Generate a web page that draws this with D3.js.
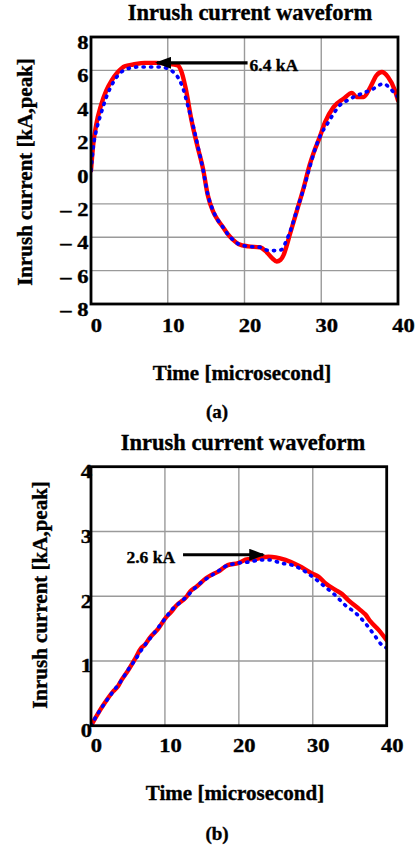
<!DOCTYPE html>
<html>
<head>
<meta charset="utf-8">
<script src="https://cdn.jsdelivr.net/npm/d3@7"></script>
<style>
  html, body { margin: 0; padding: 0; background: #fff; }
  svg { display: block; }
  text { font-family: "Liberation Serif", "Times New Roman", serif; font-weight: bold; fill: #000; stroke: #000; stroke-width: 0.35px; }
</style>
</head>
<body>
<svg id="chart" width="420" height="845"></svg>
<script>
// ---------- DATA ----------
const xTicks = [0, 10, 20, 30, 40];
const xTickLabels = ["0", "10", "20", "30", "40"];

// Panel (a)
const aYTicks = [8, 6, 4, 2, 0, -2, -4, -6, -8];
const aYTickLabels = ["8", "6", "4", "2", "0", "\u2013 2", "\u2013 4", "\u2013 6", "\u2013 8"];
const aRedT = [0, 0.3, 0.7, 1.3, 2.0, 2.7, 3.5, 4.4, 5.5, 7.0, 8.5, 10.0, 11.3, 11.8, 12.3, 13.1, 13.9, 14.6, 15.2, 15.9, 16.5, 17.2, 17.8, 18.5, 19.2, 20.5, 22.0, 22.9, 23.6, 24.2, 24.7, 25.1, 25.5, 25.9, 26.8, 27.7, 28.5, 29.0, 29.8, 30.5, 31.6, 32.9, 34.0, 34.6, 35.5, 36.4, 37.2, 37.9, 38.7, 39.6, 40];
const aRedV = [0, 1.6, 2.8, 3.9, 4.8, 5.4, 5.9, 6.25, 6.35, 6.45, 6.45, 6.4, 6.3, 5.9, 5.0, 3.0, 1.4, 0.1, -1.45, -2.45, -2.95, -3.4, -3.8, -4.15, -4.4, -4.55, -4.6, -4.9, -5.25, -5.45, -5.35, -5.05, -4.5, -3.85, -2.45, -1.05, 0.35, 1.05, 2.0, 2.9, 3.8, 4.3, 4.65, 4.4, 4.4, 5.0, 5.7, 5.9, 5.6, 4.8, 4.2];
const aBlueT = [0, 0.3, 0.8, 1.3, 2.0, 2.8, 3.6, 4.5, 6.0, 7.5, 9.0, 10.0, 10.6, 11.3, 12.0, 12.6, 13.3, 14.0, 14.6, 15.2, 15.9, 16.5, 17.2, 17.8, 18.5, 19.2, 20.5, 22.0, 23.2, 24.2, 24.8, 25.5, 26.1, 26.8, 27.7, 28.5, 29.4, 30.0, 30.8, 31.6, 32.4, 33.4, 34.2, 35.5, 36.8, 37.5, 38.1, 38.8, 39.4, 40];
const aBlueV = [0, 1.4, 2.6, 3.4, 4.4, 5.2, 5.75, 6.05, 6.2, 6.2, 6.2, 6.1, 5.95, 5.6, 4.9, 3.9, 2.7, 1.3, 0.05, -1.4, -2.4, -2.95, -3.4, -3.8, -4.15, -4.4, -4.55, -4.6, -4.8, -4.8, -4.75, -4.15, -3.45, -2.4, -1.1, 0.2, 1.55, 2.2, 2.8, 3.4, 3.9, 4.2, 4.4, 4.65, 4.9, 5.1, 5.2, 5.0, 4.7, 4.4];
const aNote = { label: "6.4 kA", fromT: 20.4, tipT: 8.6, v: 6.45 };

// Panel (b)
const bYTicks = [0, 1, 2, 3, 4];
const bYTickLabels = ["0", "1", "2", "3", "4"];
const bRedT = [0, 0.9, 1.85, 3.0, 3.6, 4.1, 5.0, 5.9, 6.8, 7.3, 7.9, 9.1, 10.2, 10.8, 11.5, 12.9, 13.4, 14.3, 15.6, 16.3, 17.2, 18.5, 19.9, 21.2, 22.2, 23.2, 24.0, 25.0, 26.3, 28.1, 29.9, 30.8, 31.7, 33.0, 34.0, 34.8, 36.4, 37.1, 37.8, 38.9, 40];
const bRedV = [0, 0.18, 0.35, 0.53, 0.6, 0.7, 0.85, 1.02, 1.2, 1.25, 1.35, 1.5, 1.68, 1.75, 1.85, 1.99, 2.07, 2.15, 2.28, 2.33, 2.38, 2.48, 2.51, 2.57, 2.57, 2.6, 2.61, 2.6, 2.56, 2.47, 2.35, 2.3, 2.2, 2.1, 2.03, 1.94, 1.79, 1.72, 1.61, 1.48, 1.32];
const bBlueT = [0, 1, 2, 3, 4, 5, 6, 7, 8, 9, 10, 11, 12, 13, 14, 15, 16, 17, 18, 19.8, 21.5, 22.9, 24.2, 25.7, 27.2, 28.7, 30.2, 31.6, 32.9, 34.4, 35.8, 37.2, 38.2, 39.5, 40];
const bBlueV = [0, 0.2, 0.37, 0.53, 0.68, 0.86, 1.02, 1.2, 1.35, 1.5, 1.65, 1.8, 1.9, 2.0, 2.12, 2.22, 2.3, 2.37, 2.45, 2.51, 2.53, 2.56, 2.56, 2.51, 2.48, 2.4, 2.28, 2.15, 2.03, 1.86, 1.74, 1.57, 1.42, 1.23, 1.2];
const bNote = { label: "2.6 kA", fromT: 12.45, tipT: 23.3, v: 2.64 };

const titleText = "Inrush current waveform";
const xLabelText = "Time [microsecond]";
const yLabelText = "Inrush current [kA,peak]";

// ---------- DRAW ----------
const svg = d3.select("#chart");
svg.append("rect").attr("width", 420).attr("height", 845).attr("fill", "#fff");

const defs = svg.append("defs");
defs.append("marker").attr("id", "arrowHead")
  .attr("viewBox", "0 0 16 12").attr("refX", 14).attr("refY", 6)
  .attr("markerWidth", 16).attr("markerHeight", 12)
  .attr("markerUnits", "userSpaceOnUse").attr("orient", "auto")
  .append("path").attr("d", "M0,0 L16,6 L0,12 Z").attr("fill", "#000");

const TICK_SX = 1.22;

function panel(cfg) {
  const x = d3.scaleLinear().domain([0, 40]).range([cfg.left, cfg.right]);
  const y = d3.scaleLinear().domain(cfg.yDomain).range([cfg.bottom, cfg.top]);
  const g = svg.append("g");

  // grid
  g.append("g").selectAll("line").data(xTicks).join("line")
    .attr("x1", d => x(d)).attr("x2", d => x(d))
    .attr("y1", cfg.top).attr("y2", cfg.bottom)
    .attr("stroke", "#9a9a9a").attr("stroke-width", 1.4);
  g.append("g").selectAll("line").data(cfg.yTicks).join("line")
    .attr("x1", cfg.left).attr("x2", cfg.right)
    .attr("y1", d => y(d)).attr("y2", d => y(d))
    .attr("stroke", "#9a9a9a").attr("stroke-width", 1.4);

  const clipId = "clip" + cfg.id;
  defs.append("clipPath").attr("id", clipId).append("rect")
    .attr("x", cfg.left).attr("y", cfg.top - 10)
    .attr("width", cfg.right - cfg.left).attr("height", cfg.bottom - cfg.top + 10);

  const line = d3.line().x(d => x(d[0])).y(d => y(d[1])).curve(d3.curveMonotoneX);
  const red = d3.zip(cfg.redT, cfg.redV);
  const blue = d3.zip(cfg.blueT, cfg.blueV);
  const lines = g.append("g").attr("clip-path", `url(#${clipId})`);
  lines.append("path").attr("d", line(red)).attr("fill", "none")
    .attr("stroke", "#ff0000").attr("stroke-width", 4.4).attr("stroke-linejoin", "round").attr("stroke-linecap", "round");
  lines.append("path").attr("d", line(blue)).attr("fill", "none")
    .attr("stroke", "#0000ff").attr("stroke-width", 3.6)
    .attr("stroke-dasharray", "1.2,6.3").attr("stroke-linecap", "round");

  // frame
  g.append("rect").attr("x", cfg.left).attr("y", cfg.top)
    .attr("width", cfg.right - cfg.left).attr("height", cfg.bottom - cfg.top)
    .attr("fill", "none").attr("stroke", "#000").attr("stroke-width", 2.8);

  // y tick labels
  g.append("g").selectAll("text").data(cfg.yTicks).join("text")
    .attr("transform", d => `translate(${cfg.yLabelRight},${y(d) + cfg.yLabelDy}) scale(${TICK_SX},1)`)
    .attr("text-anchor", "end").attr("font-size", cfg.tickSize)
    .text((d, i) => cfg.yTickLabels[i]);
  // x tick labels
  g.append("g").selectAll("text").data(xTicks).join("text")
    .attr("transform", d => `translate(${x(d) + 5.5},${cfg.xTickBaseline}) scale(${TICK_SX},1)`)
    .attr("text-anchor", "middle").attr("font-size", cfg.tickSize)
    .text((d, i) => xTickLabels[i]);

  // title
  g.append("text").attr("x", cfg.titleX).attr("y", cfg.titleY)
    .attr("text-anchor", "middle").attr("font-size", 22.5).text(titleText);
  // x label
  g.append("text").attr("x", cfg.xLabelX).attr("y", cfg.xLabelY)
    .attr("text-anchor", "middle").attr("font-size", 21).text(xLabelText);
  // y label
  g.append("text").attr("transform", `translate(${cfg.yLabelX},${cfg.yLabelY}) rotate(-90)`)
    .attr("text-anchor", "middle").attr("font-size", 21).text(yLabelText);
  // caption
  g.append("text").attr("x", 217).attr("y", cfg.capY)
    .attr("text-anchor", "middle").attr("font-size", 19).text(cfg.caption);

  // annotation
  const n = cfg.note;
  g.append("line")
    .attr("x1", x(n.fromT)).attr("y1", y(n.v))
    .attr("x2", x(n.tipT)).attr("y2", y(n.v))
    .attr("stroke", "#000").attr("stroke-width", 3.2)
    .attr("marker-end", "url(#arrowHead)");
  g.append("text")
    .attr("x", n.fromT > n.tipT ? x(n.fromT) + 2 : x(n.fromT) - 8)
    .attr("y", y(n.v) + 8)
    .attr("text-anchor", n.fromT > n.tipT ? "start" : "end")
    .attr("font-size", 17.5).text(n.label);
}

panel({
  id: "a", left: 91, right: 398, top: 37, bottom: 304, yDomain: [-8, 8],
  yTicks: aYTicks, yTickLabels: aYTickLabels,
  redT: aRedT, redV: aRedV, blueT: aBlueT, blueV: aBlueV,
  yLabelRight: 88.5, yLabelDy: 12, xTickBaseline: 331.5, tickSize: 18.5,
  titleX: 250, titleY: 20, xLabelX: 242, xLabelY: 380, yLabelX: 32, yLabelY: 172,
  capY: 418, caption: "(a)", note: aNote
});
panel({
  id: "b", left: 91, right: 386.7, top: 466.7, bottom: 725.7, yDomain: [0, 4],
  yTicks: bYTicks, yTickLabels: bYTickLabels,
  redT: bRedT, redV: bRedV, blueT: bBlueT, blueV: bBlueV,
  yLabelRight: 92, yLabelDy: 11.5, xTickBaseline: 751.5, tickSize: 18.5,
  titleX: 243, titleY: 450, xLabelX: 235, xLabelY: 800, yLabelX: 47, yLabelY: 595,
  capY: 840, caption: "(b)", note: bNote
});
</script>
</body>
</html>
